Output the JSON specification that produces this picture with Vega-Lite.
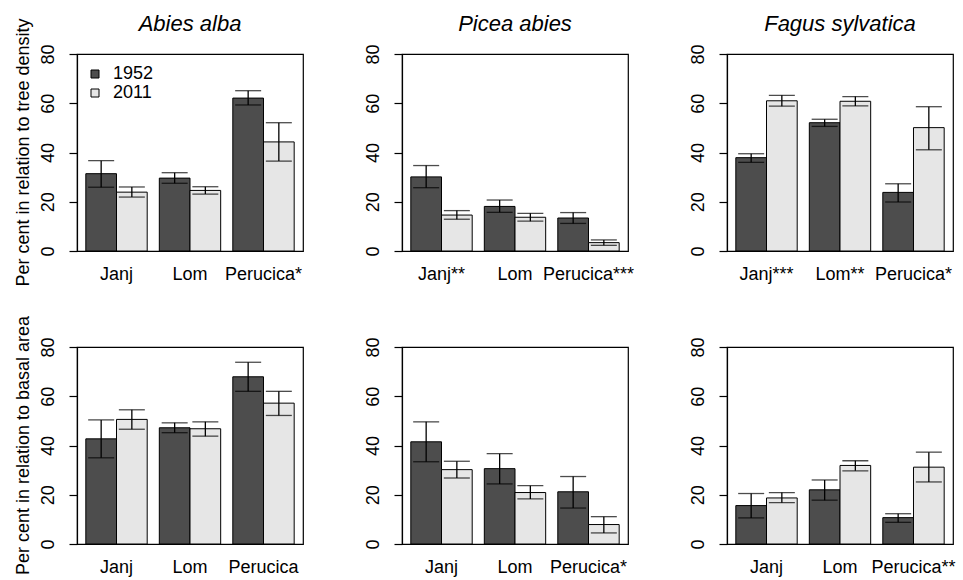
{
  "$schema": "https://vega.github.io/schema/vega-lite/v6.json",
  "padding": {"left": 14, "top": 13, "right": 5, "bottom": 5},
  "background": "white",
  "config": {
    "font": "Liberation Sans",
    "view": {"stroke": "black", "strokeWidth": 1.2},
    "style": {"cell": {"stroke": "black", "strokeWidth": 1.2}},
    "axis": {"labelColor": "black", "labelFont": "Liberation Sans"}
  },
  "data": {
    "values": [
      {"species": "Abies alba", "measure": "Per cent in relation to tree density", "label": "Janj", "year": "1952", "value": 31.4, "low": 25.9, "high": 36.7},
      {"species": "Abies alba", "measure": "Per cent in relation to tree density", "label": "Janj", "year": "2011", "value": 23.9, "low": 21.9, "high": 26.0},
      {"species": "Abies alba", "measure": "Per cent in relation to tree density", "label": "Lom", "year": "1952", "value": 29.6, "low": 27.5, "high": 31.8},
      {"species": "Abies alba", "measure": "Per cent in relation to tree density", "label": "Lom", "year": "2011", "value": 24.6, "low": 23.1, "high": 26.1},
      {"species": "Abies alba", "measure": "Per cent in relation to tree density", "label": "Perucica*", "year": "1952", "value": 62.1, "low": 59.3, "high": 65.1},
      {"species": "Abies alba", "measure": "Per cent in relation to tree density", "label": "Perucica*", "year": "2011", "value": 44.3, "low": 36.5, "high": 52.1},
      {"species": "Picea abies", "measure": "Per cent in relation to tree density", "label": "Janj**", "year": "1952", "value": 30.1, "low": 25.7, "high": 34.7},
      {"species": "Picea abies", "measure": "Per cent in relation to tree density", "label": "Janj**", "year": "2011", "value": 14.6, "low": 12.9, "high": 16.4},
      {"species": "Picea abies", "measure": "Per cent in relation to tree density", "label": "Lom", "year": "1952", "value": 18.1, "low": 15.7, "high": 20.7},
      {"species": "Picea abies", "measure": "Per cent in relation to tree density", "label": "Lom", "year": "2011", "value": 13.7, "low": 12.1, "high": 15.3},
      {"species": "Picea abies", "measure": "Per cent in relation to tree density", "label": "Perucica***", "year": "1952", "value": 13.4, "low": 11.2, "high": 15.6},
      {"species": "Picea abies", "measure": "Per cent in relation to tree density", "label": "Perucica***", "year": "2011", "value": 3.4, "low": 2.3, "high": 4.5},
      {"species": "Fagus sylvatica", "measure": "Per cent in relation to tree density", "label": "Janj***", "year": "1952", "value": 37.9, "low": 36.0, "high": 39.5},
      {"species": "Fagus sylvatica", "measure": "Per cent in relation to tree density", "label": "Janj***", "year": "2011", "value": 61.0, "low": 58.8, "high": 63.2},
      {"species": "Fagus sylvatica", "measure": "Per cent in relation to tree density", "label": "Lom**", "year": "1952", "value": 52.1, "low": 50.6, "high": 53.5},
      {"species": "Fagus sylvatica", "measure": "Per cent in relation to tree density", "label": "Lom**", "year": "2011", "value": 60.8, "low": 58.9, "high": 62.7},
      {"species": "Fagus sylvatica", "measure": "Per cent in relation to tree density", "label": "Perucica*", "year": "1952", "value": 23.8, "low": 19.9, "high": 27.3},
      {"species": "Fagus sylvatica", "measure": "Per cent in relation to tree density", "label": "Perucica*", "year": "2011", "value": 50.1, "low": 41.1, "high": 58.6},
      {"species": "Abies alba", "measure": "Per cent in relation to basal area", "label": "Janj", "year": "1952", "value": 42.7, "low": 35.0, "high": 50.4},
      {"species": "Abies alba", "measure": "Per cent in relation to basal area", "label": "Janj", "year": "2011", "value": 50.6, "low": 46.6, "high": 54.5},
      {"species": "Abies alba", "measure": "Per cent in relation to basal area", "label": "Lom", "year": "1952", "value": 47.2, "low": 45.2, "high": 49.2},
      {"species": "Abies alba", "measure": "Per cent in relation to basal area", "label": "Lom", "year": "2011", "value": 46.8, "low": 43.8, "high": 49.6},
      {"species": "Abies alba", "measure": "Per cent in relation to basal area", "label": "Perucica", "year": "1952", "value": 67.9, "low": 62.0, "high": 73.8},
      {"species": "Abies alba", "measure": "Per cent in relation to basal area", "label": "Perucica", "year": "2011", "value": 57.2, "low": 52.2, "high": 62.0},
      {"species": "Picea abies", "measure": "Per cent in relation to basal area", "label": "Janj", "year": "1952", "value": 41.5, "low": 33.4, "high": 49.6},
      {"species": "Picea abies", "measure": "Per cent in relation to basal area", "label": "Janj", "year": "2011", "value": 30.2, "low": 26.8, "high": 33.6},
      {"species": "Picea abies", "measure": "Per cent in relation to basal area", "label": "Lom", "year": "1952", "value": 30.6, "low": 24.4, "high": 36.7},
      {"species": "Picea abies", "measure": "Per cent in relation to basal area", "label": "Lom", "year": "2011", "value": 20.9, "low": 18.3, "high": 23.7},
      {"species": "Picea abies", "measure": "Per cent in relation to basal area", "label": "Perucica*", "year": "1952", "value": 21.2, "low": 14.6, "high": 27.4},
      {"species": "Picea abies", "measure": "Per cent in relation to basal area", "label": "Perucica*", "year": "2011", "value": 7.9, "low": 4.5, "high": 11.1},
      {"species": "Fagus sylvatica", "measure": "Per cent in relation to basal area", "label": "Janj", "year": "1952", "value": 15.6, "low": 10.6, "high": 20.5},
      {"species": "Fagus sylvatica", "measure": "Per cent in relation to basal area", "label": "Janj", "year": "2011", "value": 18.7, "low": 16.8, "high": 20.9},
      {"species": "Fagus sylvatica", "measure": "Per cent in relation to basal area", "label": "Lom", "year": "1952", "value": 22.0, "low": 17.8, "high": 26.0},
      {"species": "Fagus sylvatica", "measure": "Per cent in relation to basal area", "label": "Lom", "year": "2011", "value": 31.9, "low": 29.7, "high": 33.8},
      {"species": "Fagus sylvatica", "measure": "Per cent in relation to basal area", "label": "Perucica**", "year": "1952", "value": 10.7, "low": 8.8, "high": 12.3},
      {"species": "Fagus sylvatica", "measure": "Per cent in relation to basal area", "label": "Perucica**", "year": "2011", "value": 31.2, "low": 25.2, "high": 37.3}
    ]
  },
  "facet": {
    "row": {
      "field": "measure", "type": "nominal",
      "sort": ["Per cent in relation to tree density", "Per cent in relation to basal area"],
      "header": {"title": null, "labelAngle": -90, "labelOrient": "left", "labelFontSize": 18, "labelFont": "Liberation Sans", "labelColor": "black", "labelPadding": 35}
    },
    "column": {
      "field": "species", "type": "nominal",
      "sort": ["Abies alba", "Picea abies", "Fagus sylvatica"],
      "header": {"title": null, "labelFontStyle": "italic", "labelFontSize": 22, "labelFont": "Liberation Sans", "labelColor": "black", "labelPadding": 18}
    }
  },
  "spacing": {"row": 96, "column": 99},
  "bounds": "flush",
  "resolve": {"scale": {"x": "independent", "xOffset": "independent"}, "axis": {"x": "independent", "y": "independent"}},
  "spec": {
    "width": 226,
    "height": 197,
    "encoding": {
      "x": {"field": "label", "type": "nominal", "scale": {"paddingInner": 0.165, "paddingOuter": 0.12},
        "axis": {"title": null, "labelAngle": 0, "domain": false, "ticks": false, "labelFontSize": 18, "labelPadding": 14, "labelColor": "black"}},
      "xOffset": {"field": "year", "type": "nominal", "scale": {"domain": ["1952", "2011"], "paddingInner": 0, "paddingOuter": 0}}
    },
    "layer": [
      {
        "mark": {"type": "bar", "stroke": "black", "strokeWidth": 1},
        "encoding": {
          "y": {"field": "value", "type": "quantitative", "scale": {"domain": [0, 80], "nice": false},
            "axis": {"title": null, "values": [0, 20, 40, 60, 80], "labelAngle": -90, "labelAlign": "center", "labelBaseline": "bottom", "tickSize": 8, "labelPadding": 12, "labelFontSize": 18, "grid": false, "domainColor": "black", "tickColor": "black", "domainWidth": 1.2, "tickWidth": 1.2, "labelFlush": false, "labelOverlap": false, "labelColor": "black"}},
          "color": {"field": "year", "type": "nominal", "scale": {"domain": ["1952", "2011"], "range": ["#4d4d4d", "#e6e6e6"]},
            "legend": {"title": null, "orient": "none", "legendX": 9, "legendY": 11, "symbolType": "square", "symbolSize": 64, "symbolStrokeColor": "black", "symbolStrokeWidth": 1, "labelFontSize": 18, "labelColor": "black", "labelOffset": 9, "rowPadding": 1, "padding": 0}}
        }
      },
      {
        "mark": {"type": "rule", "color": "black", "strokeWidth": 1.3},
        "encoding": {"y": {"field": "low", "type": "quantitative"}, "y2": {"field": "high"}}
      },
      {
        "mark": {"type": "tick", "color": "black", "thickness": 1.3, "size": 26},
        "encoding": {"y": {"field": "low", "type": "quantitative"}}
      },
      {
        "mark": {"type": "tick", "color": "black", "thickness": 1.3, "size": 26},
        "encoding": {"y": {"field": "high", "type": "quantitative"}}
      }
    ]
  }
}
